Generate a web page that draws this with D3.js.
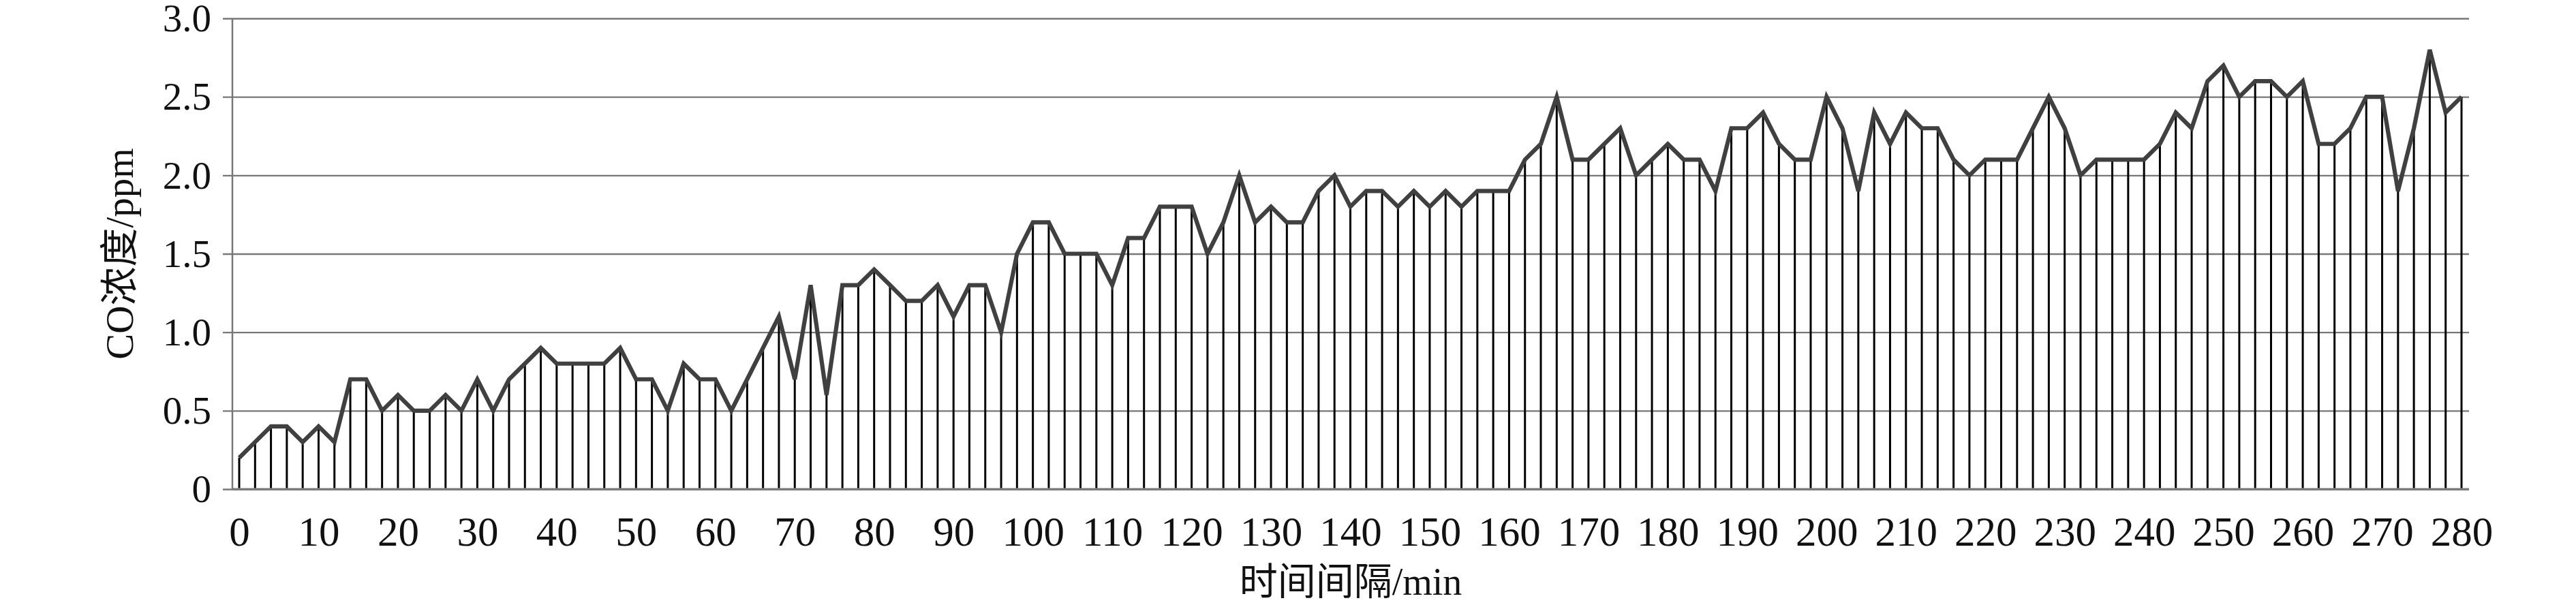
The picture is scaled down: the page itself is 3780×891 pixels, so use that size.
<!DOCTYPE html>
<html>
<head>
<meta charset="utf-8">
<script src="https://cdn.jsdelivr.net/npm/d3@7/dist/d3.min.js"></script>
<style>
  html, body { margin: 0; padding: 0; background: #fff; }
  svg { display: block; }
</style>
</head>
<body>
<svg id="chart" width="3780" height="891"></svg>
<script>
// ---- data ----
const minutes = d3.range(0, 281, 2);
const coValues = [
  0.2, 0.3, 0.4, 0.4, 0.3, 0.4, 0.3, 0.7, 0.7, 0.5,
  0.6, 0.5, 0.5, 0.6, 0.5, 0.7, 0.5, 0.7, 0.8, 0.9,
  0.8, 0.8, 0.8, 0.8, 0.9, 0.7, 0.7, 0.5, 0.8, 0.7,
  0.7, 0.5, 0.7, 0.9, 1.1, 0.7, 1.3, 0.6, 1.3, 1.3,
  1.4, 1.3, 1.2, 1.2, 1.3, 1.1, 1.3, 1.3, 1.0, 1.5,
  1.7, 1.7, 1.5, 1.5, 1.5, 1.3, 1.6, 1.6, 1.8, 1.8,
  1.8, 1.5, 1.7, 2.0, 1.7, 1.8, 1.7, 1.7, 1.9, 2.0,
  1.8, 1.9, 1.9, 1.8, 1.9, 1.8, 1.9, 1.8, 1.9, 1.9,
  1.9, 2.1, 2.2, 2.5, 2.1, 2.1, 2.2, 2.3, 2.0, 2.1,
  2.2, 2.1, 2.1, 1.9, 2.3, 2.3, 2.4, 2.2, 2.1, 2.1,
  2.5, 2.3, 1.9, 2.4, 2.2, 2.4, 2.3, 2.3, 2.1, 2.0,
  2.1, 2.1, 2.1, 2.3, 2.5, 2.3, 2.0, 2.1, 2.1, 2.1,
  2.1, 2.2, 2.4, 2.3, 2.6, 2.7, 2.5, 2.6, 2.6, 2.5,
  2.6, 2.2, 2.2, 2.3, 2.5, 2.5, 1.9, 2.3, 2.8, 2.4,
  2.5
];
const xTickValues = d3.range(0, 281, 10);
const yTickValues = [0, 0.5, 1.0, 1.5, 2.0, 2.5, 3.0];
const xTitle = "时间间隔/min";
const yTitle = "CO浓度/ppm";

const data = minutes.map((m, i) => ({ m, v: coValues[i] }));

// ---- layout ----
const plotLeft = 341, plotRight = 3623, plotTop = 27, plotBottom = 718;
const x = d3.scaleLinear().domain([0, 280]).range([351, 3612]);
const y = d3.scaleLinear().domain([0, 3]).range([plotBottom, plotTop]);

const svg = d3.select("#chart");
svg.append("rect").attr("width", 3780).attr("height", 891).attr("fill", "#fff");

const serif = "'Liberation Serif', 'Times New Roman', 'Noto Sans CJK SC', serif";

// gridlines + y axis ticks
const yAxis = d3.axisLeft(y)
  .tickValues(yTickValues)
  .tickSize(-(plotRight - plotLeft))
  .tickSizeOuter(0)
  .tickPadding(0)
  .tickFormat(d => d === 0 ? "0" : d.toFixed(1));
const gy = svg.append("g").attr("transform", `translate(${plotLeft},0)`).call(yAxis);
gy.select(".domain").remove();
gy.selectAll(".tick line")
  .attr("x1", -14)
  .attr("stroke", "#777")
  .attr("stroke-width", 2.4);
gy.selectAll(".tick text")
  .attr("x", -31)
  .attr("dy", "0.33em")
  .attr("font-family", serif)
  .attr("font-size", 57)
  .attr("fill", "#111");

// baseline (x axis) and y axis line
svg.append("line")
  .attr("x1", plotLeft).attr("x2", plotRight)
  .attr("y1", y(0)).attr("y2", y(0))
  .attr("stroke", "#777").attr("stroke-width", 3);
svg.append("line")
  .attr("x1", plotLeft).attr("x2", plotLeft)
  .attr("y1", plotTop).attr("y2", plotBottom)
  .attr("stroke", "#777").attr("stroke-width", 2.5);

// drop lines
svg.append("g").selectAll("line").data(data).join("line")
  .attr("x1", d => x(d.m)).attr("x2", d => x(d.m))
  .attr("y1", y(0) - 1.5).attr("y2", d => y(d.v))
  .attr("stroke", "#000").attr("stroke-width", 3);

// data line
svg.append("path").datum(data)
  .attr("fill", "none")
  .attr("stroke", "#404040")
  .attr("stroke-width", 6.2)
  .attr("stroke-linejoin", "miter")
  .attr("d", d3.line().x(d => x(d.m)).y(d => y(d.v)));

// x axis labels
const xAxis = d3.axisBottom(x).tickValues(xTickValues).tickSize(0).tickPadding(0).tickFormat(d3.format("d"));
const gx = svg.append("g").attr("transform", `translate(0,${plotBottom})`).call(xAxis);
gx.select(".domain").remove();
gx.selectAll(".tick text")
  .attr("y", 83)
  .attr("dy", 0)
  .attr("font-family", serif)
  .attr("font-size", 61)
  .attr("fill", "#111");

// axis titles
svg.append("text")
  .attr("x", (plotLeft + plotRight) / 2)
  .attr("y", 873)
  .attr("text-anchor", "middle")
  .attr("font-family", serif)
  .attr("font-size", 56)
  .attr("fill", "#111")
  .text(xTitle);

svg.append("text")
  .attr("transform", `translate(195,${(plotTop + plotBottom) / 2}) rotate(-90)`)
  .attr("text-anchor", "middle")
  .attr("font-family", serif)
  .attr("font-size", 57)
  .attr("fill", "#111")
  .text(yTitle);
</script>
</body>
</html>
